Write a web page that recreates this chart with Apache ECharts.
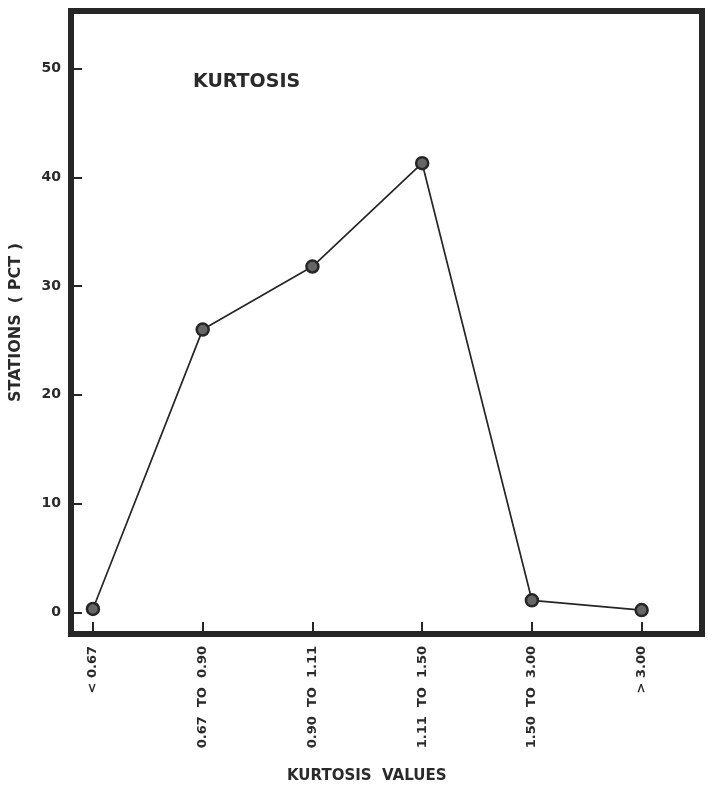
<!DOCTYPE html>
<html><head><meta charset="utf-8">
<script src="https://cdn.jsdelivr.net/npm/echarts@6/dist/echarts.min.js"></script>
<style>html,body{margin:0;padding:0;background:#fff}#c{width:708px;height:792px}</style>
</head><body><div id="c"></div>
<script>
const categories = ['< 0.67', '0.67  TO  0.90', '0.90  TO  1.11', '1.11  TO  1.50', '1.50  TO  3.00', '> 3.00'];
const stationsPct = [0.3, 26.0, 31.8, 41.3, 1.1, 0.2];
const yTicks = [0, 10, 20, 30, 40, 50];
const xTicks = [0, 1, 2, 3, 4, 5];

const chart = echarts.init(document.getElementById('c'), null, {renderer: 'canvas'});
const ink = '#262626';
const font = 'DejaVu Sans';
chart.setOption({
  animation: false,
  backgroundColor: '#ffffff',
  title: [
    {text: 'KURTOSIS', left: 188, top: 68, textStyle: {fontFamily: font, fontSize: 19, fontWeight: 'bold', color: '#2a2a2a'}},
    {text: 'KURTOSIS  VALUES', left: 282, top: 764, textStyle: {fontFamily: font, fontSize: 15, fontWeight: 'bold', color: '#2a2a2a'}}
  ],
  grid: {left: 66, right: 6, top: 11, bottom: 158, show: true, borderColor: ink, borderWidth: 6, backgroundColor: 'transparent'},
  xAxis: {
    type: 'value', min: -0.2, max: 5.55,
    axisLine: {show: false, onZero: false},
    splitLine: {show: false},
    axisTick: {show: true, inside: true, length: 12, customValues: xTicks, lineStyle: {color: ink, width: 2}},
    axisLabel: {customValues: xTicks, rotate: 90, margin: 12, fontFamily: font, fontSize: 13, fontWeight: 'bold', color: '#2a2a2a',
      formatter: v => categories[Math.round(v)]}
  },
  yAxis: {
    type: 'value', min: -2, max: 55.3,
    name: 'STATIONS  ( PCT )', nameLocation: 'middle', nameGap: 47, nameRotate: 90,
    nameTextStyle: {fontFamily: font, fontSize: 16, fontWeight: 'bold', color: '#2a2a2a'},
    axisLine: {show: false, onZero: false},
    splitLine: {show: false},
    axisTick: {show: true, inside: true, length: 11, customValues: yTicks, lineStyle: {color: ink, width: 2}},
    axisLabel: {customValues: yTicks, margin: 10, fontFamily: font, fontSize: 14, fontWeight: 'bold', color: '#2a2a2a'}
  },
  series: [{
    type: 'line',
    data: stationsPct.map((v, i) => [i, v]),
    symbol: 'circle', symbolSize: 12,
    lineStyle: {color: ink, width: 1.7},
    itemStyle: {color: '#666666', borderColor: ink, borderWidth: 2.5}
  }]
});
</script></body></html>
